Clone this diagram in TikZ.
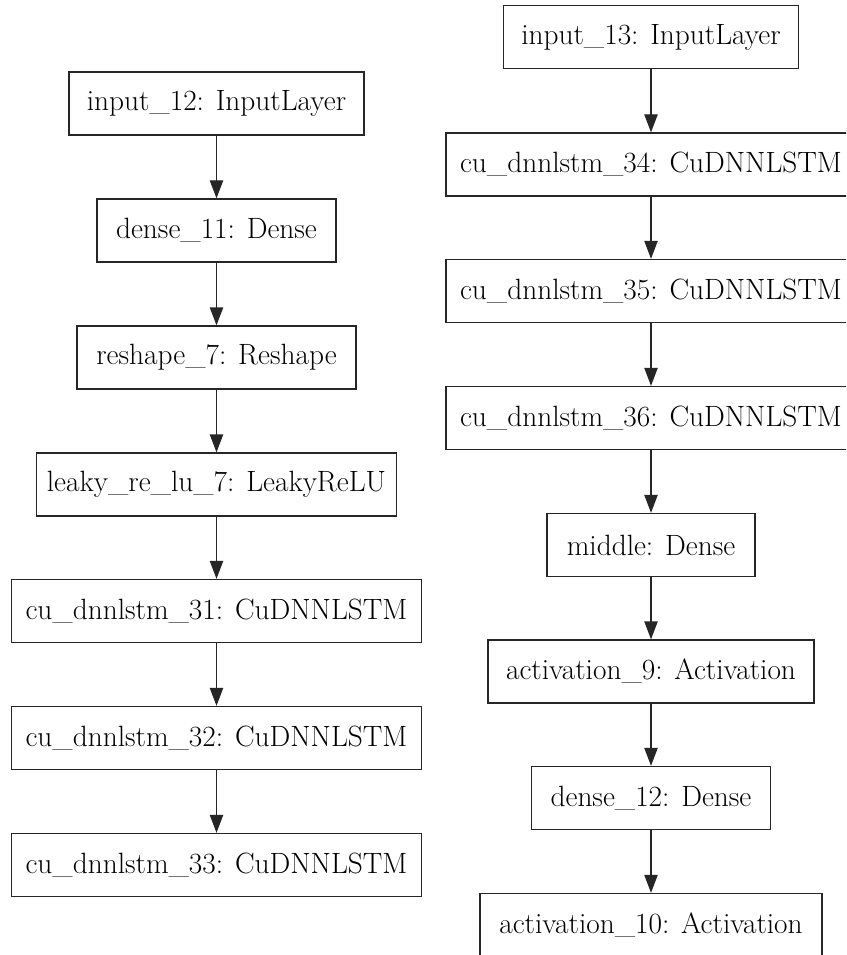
\documentclass[tikz,border=0pt]{standalone}
\usetikzlibrary{arrows.meta}
\begin{document}
\begin{tikzpicture}[x=0.75pt,y=-0.75pt,
  layer/.style={draw=black!85, line width=1pt, rectangle, inner sep=0pt,
    minimum height=47.25pt, font=\fontsize{22}{26}\selectfont, text=black},
  flow/.style={draw=black!85, line width=1pt, -{Triangle[length=13.5pt,width=10pt]}}]
\useasboundingbox (0,0) rectangle (846,955);
\clip (0,0) rectangle (846,955);
\fill[white] (0,0) rectangle (846,955);
% left column
\node[layer, minimum width=221.25pt] (in12) at (216.5,103.5) {input\_12: InputLayer};
\node[layer, minimum width=179.25pt] (d11) at (216.5,230.5) {dense\_11: Dense};
\node[layer, minimum width=209.25pt] (r7) at (216.5,357.5) {reshape\_7: Reshape};
\node[layer, minimum width=270pt] (lr7) at (216.5,484.5) {leaky\_re\_lu\_7: LeakyReLU};
\node[layer, minimum width=307.5pt] (c31) at (216.5,611) {cu\_dnnlstm\_31: CuDNNLSTM};
\node[layer, minimum width=307.5pt] (c32) at (216.5,738) {cu\_dnnlstm\_32: CuDNNLSTM};
\node[layer, minimum width=307.5pt] (c33) at (216.5,865) {cu\_dnnlstm\_33: CuDNNLSTM};
% right column
\node[layer, minimum width=221.25pt] (in13) at (651,37) {input\_13: InputLayer};
\node[layer, minimum width=307.5pt] (c34) at (651,164.5) {cu\_dnnlstm\_34: CuDNNLSTM};
\node[layer, minimum width=307.5pt] (c35) at (651,291) {cu\_dnnlstm\_35: CuDNNLSTM};
\node[layer, minimum width=307.5pt] (c36) at (651,418) {cu\_dnnlstm\_36: CuDNNLSTM};
\node[layer, minimum width=156pt] (mid) at (651,545) {middle: Dense};
\node[layer, minimum width=244.5pt] (a9) at (651,671.5) {activation\_9: Activation};
\node[layer, minimum width=179.25pt] (d12) at (651,798) {dense\_12: Dense};
\node[layer, minimum width=256.5pt] (a10) at (651,925) {activation\_10: Activation};
% connectors
\draw[flow] (in12) -- (d11);
\draw[flow] (d11) -- (r7);
\draw[flow] (r7) -- (lr7);
\draw[flow] (lr7) -- (c31);
\draw[flow] (c31) -- (c32);
\draw[flow] (c32) -- (c33);
\draw[flow] (in13) -- (c34);
\draw[flow] (c34) -- (c35);
\draw[flow] (c35) -- (c36);
\draw[flow] (c36) -- (mid);
\draw[flow] (mid) -- (a9);
\draw[flow] (a9) -- (d12);
\draw[flow] (d12) -- (a10);
\end{tikzpicture}
\end{document}
